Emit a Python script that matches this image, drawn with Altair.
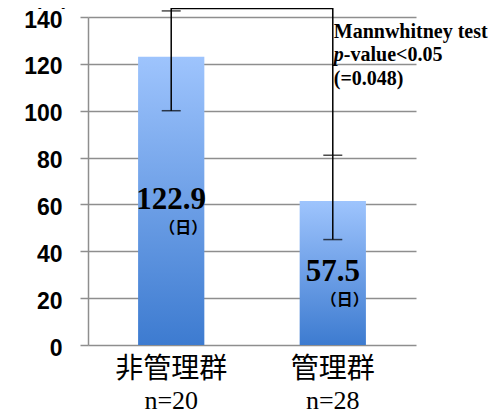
import altair as alt
import pandas as pd

# ---- data ----
groups = ["非管理群", "管理群"]
n_labels = ["n=20", "n=28"]
bar_values = [123.0, 61.5]
value_labels = ["122.9", "57.5"]
err_low = [100.0, 45.0]
err_high = [142.6, 81.0]
y_ticks = [0, 20, 40, 60, 80, 100, 120, 140]
bracket_top = 143.6
ann_line1 = "Mannwhitney test"
ann_p = "p"
ann_line2 = "-value<0.05"
ann_line3 = "(=0.048)"
ann_y = [131.0, 121.2, 111.0]
unit_label = "（日）"

df = pd.DataFrame({
    "group": groups, "n": n_labels, "value": bar_values,
    "label": value_labels, "lo": err_low, "hi": err_high,
})
df["half"] = df["value"] / 2
df["unit"] = unit_label

bracket = pd.DataFrame({
    "group": [groups[0], groups[0], groups[1], groups[1]],
    "y": [err_high[0], bracket_top, bracket_top, err_high[1]],
    "order": [0, 1, 2, 3],
})
one = pd.DataFrame({"k": [0]})

GRAY = "#8e8e8e"
xscale = alt.Scale(domain=groups, paddingInner=0.59, paddingOuter=0.31)
yscale = alt.Scale(domain=[0, 140], nice=False)

x_enc = alt.X("group:N", sort=groups, scale=xscale,
              axis=alt.Axis(title=None, labelAngle=0, labelFont="Noto Sans CJK JP",
                            labelFontSize=28, labelColor="black", ticks=False, tickSize=0,
                            domain=False, labelPadding=32, labelBaseline="alphabetic"))
y_enc = alt.Y("value:Q", scale=yscale,
              axis=alt.Axis(values=y_ticks, title="(日)", titleAngle=0, titleX=-37, titleY=-13,
                            titleFont="Liberation Sans", titleFontSize=20, titleFontWeight="bold",
                            titleColor="black", titleAlign="center", titleBaseline="alphabetic",
                            labelFont="Liberation Sans", labelFontSize=23, labelFontWeight="bold",
                            labelColor="black", labelPadding=18, labelBaseline="alphabetic",
                            labelOffset=10, tickSize=8, tickColor=GRAY,
                            tickWidth=1.5, grid=True, gridColor=GRAY, gridWidth=1.5,
                            domainColor=GRAY, domainWidth=1.5))

grad = alt.LinearGradient(
    gradient="linear", x1=0, y1=0, x2=0, y2=1,
    stops=[alt.GradientStop(color="#9ec4fd", offset=0),
           alt.GradientStop(color="#3d7bd0", offset=1)],
)

base = alt.Chart(df)
bars = base.mark_bar(color=grad).encode(x=x_enc, y=y_enc)

err_rule = base.mark_rule(color="black", strokeWidth=1.5).encode(
    x=alt.X("group:N", sort=groups), y="lo:Q", y2="hi:Q")
cap_lo = base.mark_tick(color="black", size=19, thickness=1.5).encode(
    x=alt.X("group:N", sort=groups), y="lo:Q")
cap_hi = base.mark_tick(color="black", size=19, thickness=1.5).encode(
    x=alt.X("group:N", sort=groups), y="hi:Q")

br = alt.Chart(bracket).mark_line(color="black", strokeWidth=1.5).encode(
    x=alt.X("group:N", sort=groups), y="y:Q", order="order:Q")

val_text = base.mark_text(font="Liberation Serif", fontWeight="bold", fontSize=31,
                          baseline="alphabetic", dy=8, color="black").encode(
    x=alt.X("group:N", sort=groups), y="half:Q", text="label:N")
unit_text = base.mark_text(font="Noto Sans CJK JP", fontWeight="bold", fontSize=16,
                           baseline="middle", dy=27, dx=12, color="black").encode(
    x=alt.X("group:N", sort=groups), y="half:Q", text="unit:N")

n_text = base.mark_text(font="Liberation Serif", fontSize=26, baseline="alphabetic",
                        dy=64, color="black").encode(
    x=alt.X("group:N", sort=groups), y=alt.datum(0), text="n:N")

def ann(txt, yv, dx, italic=False):
    return alt.Chart(one).mark_text(
        text=txt, align="left", baseline="alphabetic", dx=dx,
        font="Liberation Serif", fontWeight="bold", fontSize=20,
        fontStyle="italic" if italic else "normal", color="black",
    ).encode(x=alt.X(datum=groups[1], type="nominal"), y=alt.Y(datum=yv, type="quantitative"))

annots = [
    ann(ann_line1, ann_y[0], 1),
    ann(ann_p, ann_y[1], 1, italic=True),
    ann(ann_line2, ann_y[1], 11),
    ann(ann_line3, ann_y[2], 1),
]

chart = alt.layer(bars, err_rule, cap_lo, cap_hi, br, val_text, unit_text, n_text, *annots).properties(
    width=328, height=328,
    autosize=alt.AutoSizeParams(type="none"),
    padding={"left": 80, "top": 9, "right": 76, "bottom": 70},
    background="white",
).configure_view(stroke=None)

chart.save("out.html", embed_options={"renderer": "svg", "actions": False})
